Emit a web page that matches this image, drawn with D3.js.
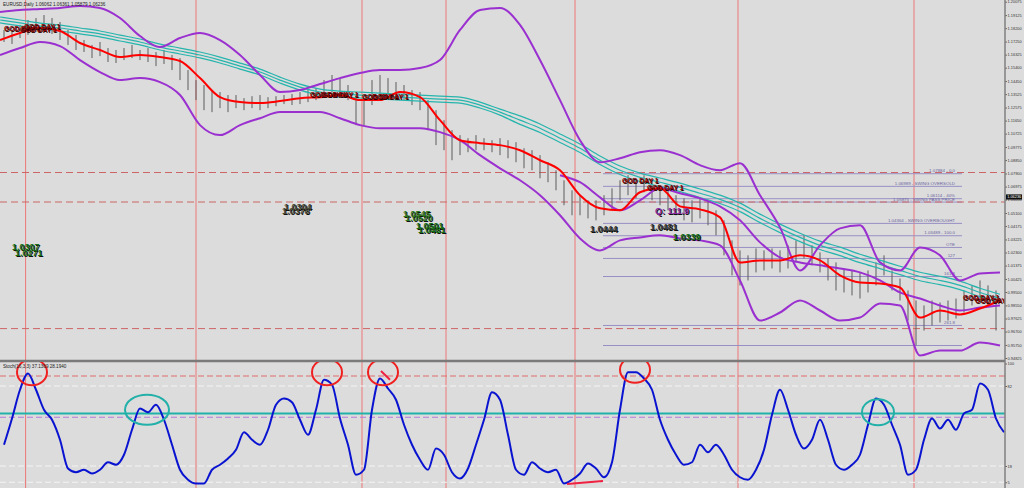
<!DOCTYPE html>
<html><head><meta charset="utf-8">
<script src="https://cdn.jsdelivr.net/npm/d3@7"></script>
<style>body{margin:0;background:#dcdcdc;} svg{display:block;}</style>
</head><body>
<svg id="c" width="1024" height="488"></svg>
<script>
// ---------------- DATA ----------------
const symbolTitle = "EURUSD,Daily  1.06062 1.06361 1.05879 1.06236";
const currentPrice = 1.06236;
const priceTicks = [1.20075,1.19125,1.18200,1.17250,1.16325,1.15400,1.14450,1.13525,1.12575,1.11650,1.10725,1.09775,1.08850,1.07900,1.06975,1.06050,1.05100,1.04175,1.03225,1.02300,1.01375,1.00425,0.99500,0.98550,0.97625,0.96700,0.95750,0.94825];
const stochTicks = [100, 82, 18, 5];
const stochTitle = "Stoch(16,3,3) 37.1369 28.1940";

// OHLC bars (every 2nd bar index, starting at 1)
const barHigh = [1.1807,1.1793,1.1843,1.1878,1.1892,1.1913,1.1892,1.1864,1.1807,1.1772,
1.1736,1.1701,1.1722,1.1679,1.1665,1.1679,1.1701,1.1665,1.1679,1.1651,
1.1665,1.1630,1.1608,1.1523,1.1452,1.1417,1.1381,1.1367,1.1346,1.1346,
1.1324,1.1338,1.1346,1.1331,1.1338,1.1346,1.1353,1.1367,1.1381,1.1395,
1.1452,1.1488,1.1466,1.1417,1.1346,1.1310,1.1452,1.1488,1.1466,1.1438,
1.1417,1.1381,1.1367,1.1310,1.1239,1.1168,1.1097,1.1062,1.1040,1.1062,
1.1040,1.1026,1.1040,1.1026,1.1012,1.0969,1.0955,1.0920,1.0870,1.0813,
1.0742,1.0671,1.0636,1.0600,1.0600,1.0636,1.0685,1.0742,1.0778,1.0756,
1.0778,1.0742,1.0707,1.0671,1.0636,1.0614,1.0600,1.0614,1.0600,1.0529,
1.0458,1.0316,1.0245,1.0210,1.0259,1.0245,1.0259,1.0245,1.0281,1.0316,
1.0352,1.0281,1.0231,1.0188,1.0160,1.0117,1.0103,1.0089,1.0103,1.0160,
1.0210,1.0103,1.0046,0.9961,0.9890,0.9855,0.9890,0.9876,0.9890,0.9904,
0.9961,0.9997,1.0032,0.9997,0.9961];
const barLow = [1.1722,1.1708,1.1750,1.1772,1.1793,1.1807,1.1779,1.1736,1.1701,1.1665,
1.1651,1.1608,1.1622,1.1580,1.1573,1.1594,1.1608,1.1594,1.1580,1.1551,
1.1566,1.1523,1.1452,1.1381,1.1310,1.1239,1.1225,1.1253,1.1225,1.1253,
1.1239,1.1253,1.1239,1.1253,1.1267,1.1282,1.1275,1.1282,1.1296,1.1310,
1.1346,1.1367,1.1346,1.1310,1.1133,1.1133,1.1275,1.1346,1.1346,1.1324,
1.1310,1.1275,1.1239,1.1097,1.0991,1.0955,1.0884,1.0920,1.0941,1.0955,
1.0955,1.0941,1.0920,1.0898,1.0870,1.0827,1.0813,1.0756,1.0728,1.0671,
1.0565,1.0494,1.0494,1.0472,1.0458,1.0494,1.0529,1.0600,1.0636,1.0614,
1.0657,1.0600,1.0565,1.0529,1.0494,1.0458,1.0444,1.0472,1.0423,1.0352,
1.0210,1.0068,0.9997,1.0032,1.0089,1.0103,1.0117,1.0089,1.0117,1.0160,
1.0188,1.0139,1.0089,1.0032,0.9961,0.9947,0.9926,0.9904,0.9947,0.9997,
1.0068,0.9961,0.9890,0.9748,0.9571,0.9677,0.9713,0.9734,0.9748,0.9762,
0.9805,0.9855,0.9890,0.9855,0.9677];

// indicator lines, sampled every 5 bars
const maRed = [1.1736,1.1786,1.1821,1.1800,1.1715,1.1665,1.1615,1.1630,1.1615,1.1587,1.1466,1.1331,1.1296,1.1289,1.1303,1.1324,1.1331,1.1346,1.1310,1.1310,1.1367,1.1331,1.1168,1.1026,1.1005,1.0991,1.0955,1.0884,1.0813,1.0636,1.0543,1.0529,1.0657,1.0685,1.0557,1.0536,1.0479,1.0160,1.0174,1.0174,1.0210,1.0174,1.0068,1.0018,1.0011,0.9982,0.9769,0.9819,0.9791,0.9833,0.9890];
const emaTop = [1.1899,1.1878,1.1856,1.1842,1.1821,1.1800,1.1771,1.1743,1.1707,1.1679,1.1651,1.1615,1.1572,1.1530,1.1473,1.1423,1.1388,1.1374,1.1367,1.1359,1.1352,1.1345,1.1338,1.1331,1.1296,1.1246,1.1198,1.1141,1.1070,1.0999,1.0914,1.0843,1.0793,1.0758,1.0722,1.0680,1.0637,1.0580,1.0502,1.0431,1.0367,1.0311,1.0268,1.0218,1.0176,1.0133,1.0090,1.0062,1.0027,0.9977,0.9934];
const emaMid = [1.1878,1.1857,1.1835,1.1821,1.1800,1.1779,1.1750,1.1722,1.1686,1.1658,1.1630,1.1594,1.1551,1.1509,1.1452,1.1402,1.1367,1.1353,1.1346,1.1338,1.1331,1.1324,1.1317,1.1310,1.1275,1.1225,1.1168,1.1111,1.1040,1.0969,1.0884,1.0813,1.0763,1.0728,1.0692,1.0650,1.0607,1.0550,1.0472,1.0401,1.0337,1.0281,1.0238,1.0188,1.0146,1.0103,1.0060,1.0032,0.9997,0.9947,0.9904];
const emaLow = [1.1857,1.1836,1.1814,1.1800,1.1779,1.1758,1.1729,1.1701,1.1665,1.1637,1.1609,1.1573,1.1530,1.1488,1.1431,1.1381,1.1346,1.1332,1.1325,1.1317,1.1310,1.1303,1.1296,1.1289,1.1254,1.1204,1.1138,1.1081,1.1010,1.0939,1.0854,1.0783,1.0733,1.0698,1.0662,1.0620,1.0577,1.0520,1.0442,1.0371,1.0307,1.0251,1.0208,1.0158,1.0116,1.0073,1.0030,1.0002,0.9967,0.9917,0.9874];
const bandUpper = [1.1935,1.1949,1.1956,1.1963,1.1977,1.1963,1.1892,1.1764,1.1686,1.1750,1.1786,1.1736,1.1630,1.1488,1.1367,1.1381,1.1424,1.1466,1.1502,1.1523,1.1523,1.1537,1.1594,1.1807,1.1949,1.1963,1.1843,1.1594,1.1310,1.1026,1.0870,1.0898,1.0941,1.0955,1.0920,1.0849,1.0813,1.0863,1.0636,1.0408,1.0103,1.0281,1.0401,1.0423,1.0160,1.0103,1.0266,1.0210,1.0032,1.0082,1.0089];
const bandLower = [1.1630,1.1679,1.1722,1.1693,1.1594,1.1509,1.1452,1.1466,1.1438,1.1346,1.1133,1.1062,1.1133,1.1182,1.1225,1.1225,1.1225,1.1182,1.1133,1.1111,1.1111,1.1111,1.1083,1.1026,1.0920,1.0827,1.0742,1.0636,1.0494,1.0330,1.0245,1.0316,1.0337,1.0352,1.0330,1.0316,1.0281,1.0032,0.9748,0.9805,0.9890,0.9819,0.9748,0.9769,0.9869,0.9855,0.9500,0.9535,0.9535,0.9592,0.9571];
const bandMiddle = [null,null,null,null,null,null,null,null,null,null,null,null,null,null,null,null,null,null,null,null,null,null,null,null,null,null,null,null,1.0778,1.0728,1.0621,1.0529,1.0600,1.0685,1.0650,1.0614,1.0557,1.0458,1.0302,1.0195,1.0160,1.0139,1.0117,1.0089,1.0032,0.9947,0.9904,0.9855,0.9819,0.9840,0.9855];

// stochastic main line, every 2nd bar starting at 1
const stochK = [35,56,79,92,79,63,55,39,16,13, 15,12,15,21,19,27,47,64,61,67, 55,35,15,7,4,4,15,19,24,31, 45,39,35,47,67,72,69,55,43,63, 87,83,56,35,11,15,63,88,80,71, 51,35,23,15,32,27,13,8,16,35, 55,77,71,43,15,11,21,16,13,15, 4,7,12,20,16,9,21,63,93,93, 88,79,55,39,27,19,21,35,29,35, 27,15,9,7,15,31,59,79,63,43, 32,39,55,39,19,15,19,27,51,72, 67,51,35,11,15,39,56,48,55,47, 60,63,84,79,56,45];

// period separators (bar index) and horizontal levels
const periodBars = [6.4, 49, 90.5, 111.5, 143.75, 184.5, 228.5];
const redDashedPrices = [1.0797, 1.0588, 0.9691];
const fibLevels = [
  {p:1.07884, t:"1.07884 - 0.0"},
  {p:1.06989, t:"1.06989 - SWING OVERSOLD"},
  {p:1.06114, t:"1.06114 - 40%"},
  {p:1.05875, t:"1.05875 - SWING PASS PRICE"},
  {p:1.04364, t:"1.04364 - SWING OVERBOUGHT"},
  {p:1.03489, t:"1.03489 - 100.0"},
  {p:1.0266, t:"OTE"},
  {p:1.0188, t:"127"},
  {p:1.0060, t:"161.8"},
  {p:0.9713, t:"261.8"},
  {p:0.9571, t:""}
];
const fibStartBar = 150.75, fibEndBar = 240.5;
const stochLevels = [
  {v:90, c:"#e06a6a", dash:"6,3", w:1},
  {v:82, c:"#f4f4f4", dash:"6,3", w:1},
  {v:60, c:"#20b2aa", dash:null, w:2},
  {v:57, c:"#b27ad8", dash:"6,3", w:1},
  {v:18, c:"#f4f4f4", dash:"6,3", w:1},
  {v:5,  c:"#f4f4f4", dash:"6,3", w:1}
];

// annotations
const godLabels = [
  {bar:1, p:1.1800},{bar:5, p:1.1793},{bar:6, p:1.1814},
  {bar:77.5, p:1.1331},{bar:80.5, p:1.1331},{bar:90.5, p:1.1317},{bar:93, p:1.1317},
  {bar:155.5, p:1.0721},{bar:161.75, p:1.0671},{bar:240.75, p:0.9890},{bar:243.75, p:0.9869}
];
const numLabels = [
  {t:"1.0307", bar:3,     p:1.0245, c:"#157015"},
  {t:"1.0271", bar:3.75,  p:1.0202, c:"#157015"},
  {t:"1.0304", bar:71,    p:1.0529, c:"#4a4a3a"},
  {t:"1.0378", bar:70.5,  p:1.0501, c:"#4a4a3a"},
  {t:"1.0545", bar:100.75,p:1.0479, c:"#2f7a20"},
  {t:"1.0520", bar:101.25,p:1.0451, c:"#2f7a20"},
  {t:"1.0501", bar:104,   p:1.0394, c:"#157015"},
  {t:"1.0481", bar:104.5, p:1.0366, c:"#157015"},
  {t:"1.0444", bar:147.5, p:1.0373, c:"#3a3a3a"},
  {t:"1.0481", bar:162.5, p:1.0387, c:"#3a3a3a"},
  {t:"1.0339", bar:168.25,p:1.0316, c:"#157015"},
  {t:"Q: 111.9", bar:163.75,p:1.0501, c:"#8a2aa8"}
];
const redCircles = [{bar:8, v:93},{bar:81.75, v:93},{bar:95.75, v:93},{bar:158.75, v:95}];
const tealCircles = [{bar:36.75, v:63, rx:22, ry:15},{bar:219.5, v:61, rx:16, ry:13}];
const redMarks = [{b1:95.25, v1:94, b2:97.5, v2:87},{b1:141.75, v1:3.6, b2:150.75, v2:6}];

// ---------------- CHART ----------------
const BAR_STEP = 2, BAR_OFFSET = 1, LINE_STEP = 5;
const svg = d3.select("#c");
const axisX = 1005;
const x = d3.scaleLinear().domain([0, 251.25]).range([0, axisX]);
const yP = d3.scaleLinear().domain([0.94825, 1.20075]).range([358, 1.7]);
const yS = d3.scaleLinear().domain([0, 100]).range([488.5, 363.5]);

svg.append("rect").attr("width",1024).attr("height",488).attr("fill","#dcdcdc");
const defs = svg.append("defs");
defs.append("clipPath").attr("id","cm").append("rect").attr("x",0).attr("y",0).attr("width",axisX).attr("height",360);
defs.append("clipPath").attr("id","cs").append("rect").attr("x",0).attr("y",362).attr("width",axisX).attr("height",126);

// separators (full height)
svg.append("g").selectAll("line").data(periodBars).join("line")
  .attr("x1",d=>x(d)).attr("x2",d=>x(d)).attr("y1",0).attr("y2",488)
  .attr("stroke","#ee7777").attr("stroke-width",1);

const main = svg.append("g").attr("clip-path","url(#cm)");

// fib levels
main.append("g").selectAll("line").data(fibLevels).join("line")
  .attr("x1",x(fibStartBar)).attr("x2",x(fibEndBar))
  .attr("y1",d=>yP(d.p)).attr("y2",d=>yP(d.p))
  .attr("stroke","#9890c4").attr("stroke-width",1);
main.append("g").selectAll("text").data(fibLevels).join("text")
  .attr("x",x(fibEndBar)-7).attr("y",d=>yP(d.p)-1.5)
  .attr("text-anchor","end").attr("font-family","Liberation Sans, Arial, sans-serif")
  .attr("font-size",4.4).attr("fill","#6a64a0").text(d=>d.t);

// red dashed levels
main.append("g").selectAll("line").data(redDashedPrices).join("line")
  .attr("x1",0).attr("x2",axisX).attr("y1",d=>yP(d)).attr("y2",d=>yP(d))
  .attr("stroke","#cc6666").attr("stroke-width",1).attr("stroke-dasharray","7,4");

// bars
main.append("g").selectAll("line").data(barHigh).join("line")
  .attr("x1",(d,i)=>x(BAR_OFFSET+i*BAR_STEP)).attr("x2",(d,i)=>x(BAR_OFFSET+i*BAR_STEP))
  .attr("y1",d=>yP(d)).attr("y2",(d,i)=>yP(barLow[i]))
  .attr("stroke","#5c5c5c").attr("stroke-width",1);

const lineGen = d3.line().defined(d=>d!=null)
  .x((d,i)=>x(i*LINE_STEP)).y(d=>yP(d)).curve(d3.curveMonotoneX);

[emaTop, emaMid, emaLow].forEach(arr=>{
  main.append("path").datum(arr).attr("d",lineGen)
    .attr("fill","none").attr("stroke","#26b5ad").attr("stroke-width",1.2);
});
[bandUpper, bandLower, bandMiddle].forEach(arr=>{
  main.append("path").datum(arr).attr("d",lineGen)
    .attr("fill","none").attr("stroke","#9b30d0").attr("stroke-width",2);
});
main.append("path").datum(maRed).attr("d",lineGen)
  .attr("fill","none").attr("stroke","#ff0000").attr("stroke-width",2);

// labels
const fontB = "Liberation Sans, Arial, sans-serif";
godLabels.forEach(d=>{
  const g = main.append("g");
  g.append("text").attr("x",x(d.bar)+0.7).attr("y",yP(d.p)+0.7).attr("font-family",fontB)
    .attr("font-weight","bold").attr("font-size",6.8).attr("fill","#2a0000").text("GOD DAY 1");
  g.append("text").attr("x",x(d.bar)).attr("y",yP(d.p)).attr("font-family",fontB)
    .attr("font-weight","bold").attr("font-size",6.8).attr("fill","#8a0a0a").text("GOD DAY 1");
});
numLabels.forEach(d=>{
  main.append("text").attr("x",x(d.bar)+1).attr("y",yP(d.p)+1).attr("font-family",fontB)
    .attr("font-weight","bold").attr("font-size",9).attr("fill","#111").text(d.t);
  main.append("text").attr("x",x(d.bar)).attr("y",yP(d.p)).attr("font-family",fontB)
    .attr("font-weight","bold").attr("font-size",9).attr("fill",d.c).text(d.t);
});
svg.append("text").attr("x",3).attr("y",6).attr("font-family",fontB).attr("font-size",4.6)
  .attr("fill","#222").text(symbolTitle);

// panel separator
svg.append("line").attr("x1",0).attr("x2",axisX).attr("y1",361).attr("y2",361)
  .attr("stroke","#7a7a7a").attr("stroke-width",2.5);

// stochastic panel
const sub = svg.append("g").attr("clip-path","url(#cs)");
sub.selectAll("line.lv").data(stochLevels).join("line").attr("class","lv")
  .attr("x1",0).attr("x2",axisX).attr("y1",d=>yS(d.v)).attr("y2",d=>yS(d.v))
  .attr("stroke",d=>d.c).attr("stroke-width",d=>d.w).attr("stroke-dasharray",d=>d.dash);
sub.append("path").datum(stochK)
  .attr("d", d3.line().x((d,i)=>x(BAR_OFFSET+i*BAR_STEP)).y(d=>yS(d)).curve(d3.curveMonotoneX))
  .attr("fill","none").attr("stroke","#0a14d0").attr("stroke-width",2);
sub.selectAll("ellipse.r").data(redCircles).join("ellipse").attr("class","r")
  .attr("cx",d=>x(d.bar)).attr("cy",d=>yS(d.v)).attr("rx",15).attr("ry",13)
  .attr("fill","none").attr("stroke","#f02020").attr("stroke-width",2);
sub.selectAll("ellipse.t").data(tealCircles).join("ellipse").attr("class","t")
  .attr("cx",d=>x(d.bar)).attr("cy",d=>yS(d.v)).attr("rx",d=>d.rx).attr("ry",d=>d.ry)
  .attr("fill","none").attr("stroke","#22b0a8").attr("stroke-width",2);
sub.selectAll("line.m").data(redMarks).join("line").attr("class","m")
  .attr("x1",d=>x(d.b1)).attr("y1",d=>yS(d.v1)).attr("x2",d=>x(d.b2)).attr("y2",d=>yS(d.v2))
  .attr("stroke","#f02040").attr("stroke-width",2);
svg.append("text").attr("x",3).attr("y",368).attr("font-family",fontB).attr("font-size",4.6)
  .attr("fill","#222").text(stochTitle);

// axes
const ax = svg.append("g").attr("transform",`translate(${axisX},0)`)
  .call(d3.axisRight(yP).tickValues(priceTicks).tickSize(2).tickFormat(d3.format(".5f")));
const ax2 = svg.append("g").attr("transform",`translate(${axisX},0)`)
  .call(d3.axisRight(yS).tickValues(stochTicks).tickSize(2).tickFormat(d3.format("d")));
[ax, ax2].forEach(a=>{
  a.select(".domain").remove();
  a.selectAll("line").attr("stroke","#666");
  a.selectAll("text").attr("font-size",3.9).attr("font-family",fontB).attr("fill","#333").attr("x",2.6);
});
svg.append("line").attr("x1",axisX).attr("x2",axisX).attr("y1",0).attr("y2",488)
  .attr("stroke","#808080").attr("stroke-width",1.5);
// current price box
svg.append("rect").attr("x",axisX+1).attr("y",yP(currentPrice)-2.6).attr("width",16).attr("height",5.2).attr("fill","#111");
svg.append("text").attr("x",axisX+2.2).attr("y",yP(currentPrice)+1.4).attr("font-family",fontB)
  .attr("font-size",3.9).attr("fill","#fff").text(d3.format(".5f")(currentPrice));
</script>
</body></html>
